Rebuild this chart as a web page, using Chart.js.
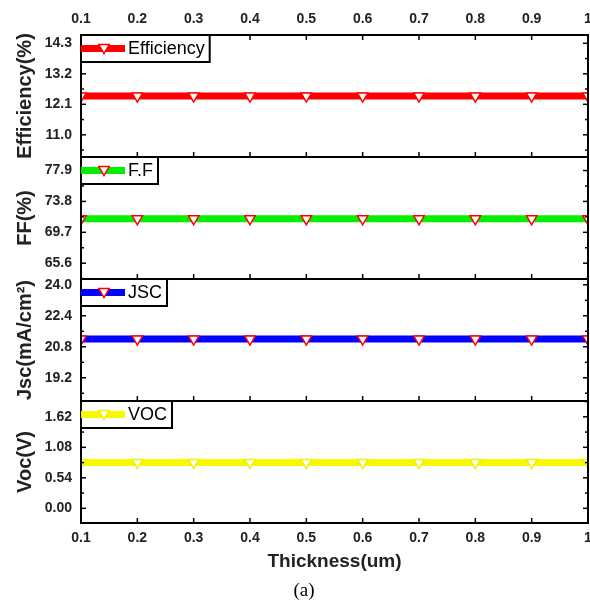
<!DOCTYPE html>
<html>
<head>
<meta charset="utf-8">
<title>Thickness</title>
<script src="https://cdn.jsdelivr.net/npm/chart.js@4/dist/chart.umd.min.js"></script>
<style>
  body { margin: 0; background: #fff; }
  canvas { display: block; }
</style>
</head>
<body>
<canvas id="thicknessChart" width="590" height="605"></canvas>
<script>
// thickness (um)
const thickness = [0.1, 0.2, 0.3, 0.4, 0.5, 0.6, 0.7, 0.8, 0.9, 1.0];

const efficiency = [12.4, 12.4, 12.4, 12.4, 12.4, 12.4, 12.4, 12.4, 12.4, 12.4];
const fillFactor = [71.5, 71.5, 71.5, 71.5, 71.5, 71.5, 71.5, 71.5, 71.5, 71.5];
const jsc = [21.2, 21.2, 21.2, 21.2, 21.2, 21.2, 21.2, 21.2, 21.2, 21.2];
const voc = [0.81, 0.81, 0.81, 0.81, 0.81, 0.81, 0.81, 0.81, 0.81, 0.81];

// tick labels
const xTicks = [0.1, 0.2, 0.3, 0.4, 0.5, 0.6, 0.7, 0.8, 0.9, 1.0];
const effTicks = [11.0, 12.1, 13.2, 14.3];
const ffTicks = [65.6, 69.7, 73.8, 77.9];
const jscTicks = [19.2, 20.8, 22.4, 24.0];
const vocTicks = [0.00, 0.54, 1.08, 1.62];

const SANS = "'Liberation Sans', Arial, sans-serif";
const TXT = '#222';

const panels = [
    { id: 'y1', label: 'Efficiency', title: 'Efficiency(%)', data: efficiency, ticks: effTicks, dec: 1, min: 10.2, max: 14.6, color: '#ff0000', mark: '#ff0000' },
    { id: 'y2', label: 'F.F', title: 'FF(%)', data: fillFactor, ticks: ffTicks, dec: 1, min: 63.5, max: 79.7, color: '#00f000', mark: '#ff0000' },
    { id: 'y3', label: 'JSC', title: 'Jsc(mA/cm²)', data: jsc, ticks: jscTicks, dec: 1, min: 18.0, max: 24.3, color: '#0000ff', mark: '#ff0000' },
    { id: 'y4', label: 'VOC', title: 'Voc(V)', data: voc, ticks: vocTicks, dec: 2, min: -0.26, max: 1.9, color: '#f8f800', mark: '#f0f000' }
];

function fmtX(v) {
    return v === 1 ? '1' : v.toFixed(1);
}

function xScale(pos) {
    return {
        type: 'linear',
        position: pos,
        min: 0.1,
        max: 1.0,
        afterBuildTicks: s => { s.ticks = xTicks.map(v => ({ value: v })); },
        afterFit: s => {
            s.height = pos === 'top' ? 35 : 50;
            s.paddingLeft = 0;
            s.paddingRight = 0;
        },
        ticks: {
            callback: v => fmtX(v),
            autoSkip: false,
            maxRotation: 0,
            padding: 7,
            color: TXT,
            font: { family: SANS, size: 14, weight: 'bold' }
        },
        grid: { display: false, drawTicks: false },
        border: { display: false },
        title: {
            display: pos === 'bottom',
            text: 'Thickness(um)',
            color: TXT,
            padding: { top: 0, bottom: 0 },
            font: { family: SANS, size: 19, weight: 'bold' }
        }
    };
}

const scales = { x: xScale('bottom'), x2: xScale('top') };
panels.forEach((p, i) => {
    scales[p.id] = {
        type: 'linear',
        position: 'left',
        stack: 'panels',
        stackWeight: 1,
        weight: panels.length - i,
        min: p.min,
        max: p.max,
        afterBuildTicks: s => { s.ticks = p.ticks.map(v => ({ value: v })); },
        afterFit: s => {
            s.width = 81;
            s.paddingTop = 0;
            s.paddingBottom = 0;
        },
        ticks: {
            callback: v => v.toFixed(p.dec),
            padding: 9,
            color: TXT,
            font: { family: SANS, size: 14, weight: 'bold' }
        },
        grid: { display: false, drawTicks: false },
        border: { display: false },
        title: {
            display: true,
            text: p.title,
            color: TXT,
            padding: { top: 13, bottom: 0 },
            font: { family: SANS, size: 20, weight: 'bold' }
        }
    };
});

function triangleDown(ctx, x, y, r, stroke) {
    ctx.save();
    ctx.beginPath();
    ctx.moveTo(x, y + r);
    ctx.lineTo(x - r * Math.sqrt(3) / 2, y - r / 2);
    ctx.lineTo(x + r * Math.sqrt(3) / 2, y - r / 2);
    ctx.closePath();
    ctx.fillStyle = '#fff';
    ctx.fill();
    ctx.lineWidth = 1.5;
    ctx.strokeStyle = stroke;
    ctx.stroke();
    ctx.restore();
}

// frames, inward ticks, per-panel legends, caption
const panelDecor = {
    id: 'panelDecor',
    afterDraw(chart) {
        const ctx = chart.ctx;
        const area = chart.chartArea;
        const xs = chart.scales.x;
        const line = (x1, y1, x2, y2) => { ctx.beginPath(); ctx.moveTo(x1, y1); ctx.lineTo(x2, y2); ctx.stroke(); };

        ctx.save();
        ctx.strokeStyle = '#000';
        ctx.lineWidth = 1.5;

        panels.forEach(p => {
            const s = chart.scales[p.id];
            const step = p.ticks[1] - p.ticks[0];
            const marks = p.ticks.map(v => [v, 5]);
            for (let i = -1; i < p.ticks.length; i++) {
                const m = p.ticks[0] + step * (i + 0.5);
                if (m > s.min && m < s.max) marks.push([m, 3]);
            }
            marks.forEach(([v, len]) => {
                const y = s.getPixelForValue(v);
                line(area.left, y, area.left + len, y);
                line(area.right, y, area.right - len, y);
            });
            xTicks.forEach(v => {
                const x = xs.getPixelForValue(v);
                line(x, s.bottom, x, s.bottom - 5);
            });
        });
        xTicks.forEach(v => {
            const x = xs.getPixelForValue(v);
            line(x, area.top, x, area.top + 5);
        });

        ctx.lineWidth = 2;
        panels.forEach(p => {
            const s = chart.scales[p.id];
            ctx.strokeRect(area.left, s.top, area.right - area.left, s.bottom - s.top);
        });

        // legends
        panels.forEach(p => {
            const s = chart.scales[p.id];
            ctx.font = '18px ' + SANS;
            const tw = ctx.measureText(p.label).width;
            const bx = area.left, by = s.top, bh = 27, bw = 48 + tw + 4;
            ctx.fillStyle = '#fff';
            ctx.fillRect(bx, by, bw, bh);
            ctx.lineWidth = 2;
            ctx.strokeStyle = '#000';
            ctx.strokeRect(bx, by, bw, bh);
            ctx.lineWidth = 7;
            ctx.strokeStyle = p.color;
            line(bx, by + bh / 2, bx + 44, by + bh / 2);
            triangleDown(ctx, bx + 23, by + bh / 2 - 1, 6, p.mark);
            ctx.fillStyle = '#000';
            ctx.textAlign = 'left';
            ctx.textBaseline = 'middle';
            ctx.fillText(p.label, bx + 47, by + bh / 2 + 1);
        });

        ctx.font = "19px 'Liberation Serif', 'Times New Roman', serif";
        ctx.fillStyle = '#000';
        ctx.textAlign = 'center';
        ctx.textBaseline = 'middle';
        ctx.fillText('(a)', 304, 591);
        ctx.restore();
    }
};

const ctx = document.getElementById('thicknessChart').getContext('2d');

const thicknessChart = new Chart(ctx, {
    type: 'line',
    data: {
        datasets: panels.map(p => ({
            label: p.label,
            data: thickness.map((t, i) => ({ x: t, y: p.data[i] })),
            xAxisID: 'x',
            yAxisID: p.id,
            borderColor: p.color,
            borderWidth: 7,
            pointStyle: 'triangle',
            rotation: 180,
            pointRadius: 6,
            pointBorderWidth: 1.5,
            pointBorderColor: p.mark,
            pointBackgroundColor: '#fff',
            tension: 0,
            clip: 0
        }))
    },
    options: {
        responsive: false,
        animation: false,
        layout: { autoPadding: false, padding: { left: 0, right: 2, top: 0, bottom: 32 } },
        plugins: {
            legend: { display: false },
            tooltip: { enabled: false }
        },
        scales: scales
    },
    plugins: [panelDecor]
});
</script>
</body>
</html>
